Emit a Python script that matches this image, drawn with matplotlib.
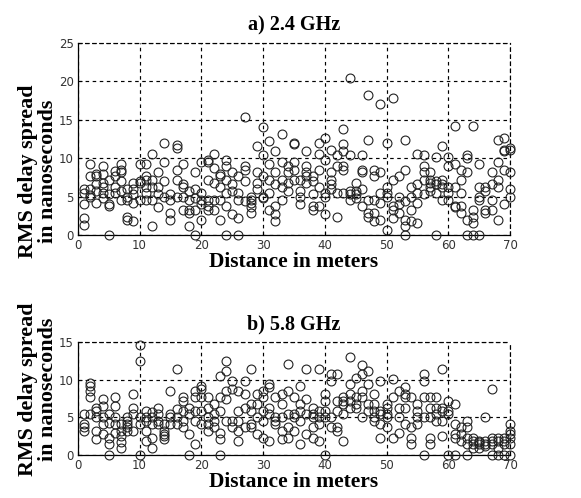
import matplotlib
matplotlib.use("Agg")
import matplotlib.pyplot as plt
import numpy as np

# RMS delay spread (ns) per distance (m)
dist = list(range(1, 71))

rms_24 = [
    [2.2, 1.3, 4.0, 5.5, 6.0],
    [9.3, 7.7, 5.0, 6.0, 5.2],
    [7.7, 6.6, 4.2, 5.7, 8.0],
    [9.0, 8.0, 6.8, 5.5, 4.8, 6.3],
    [0.0, 4.0, 3.8, 5.3, 7.2],
    [8.3, 6.3, 5.5, 7.7],
    [9.2, 8.5, 8.2, 7.0, 4.6, 5.7],
    [2.4, 2.0, 5.0, 4.6, 6.0],
    [1.8, 6.8, 6.0, 4.2, 5.3],
    [9.2, 7.0, 6.8, 4.6],
    [9.2, 7.7, 7.2, 6.3, 4.6, 5.5],
    [10.6, 1.2, 7.2, 6.3, 4.6],
    [8.2, 6.3, 5.3, 3.6],
    [12.0, 9.5, 7.0, 5.0],
    [2.9, 2.0, 5.3, 4.6],
    [11.7, 11.3, 8.5, 7.2, 5.0],
    [9.2, 6.6, 6.3, 3.3, 5.0],
    [1.2, 4.6, 3.3, 2.9, 5.7],
    [0.0, 8.2, 6.0, 3.3, 4.8],
    [9.5, 2.0, 5.5, 4.6, 4.0],
    [9.5, 9.8, 7.2, 3.8, 3.3, 4.6],
    [10.6, 8.7, 6.8, 4.6, 3.3],
    [7.9, 7.7, 2.0, 6.3, 4.6],
    [0.0, 9.8, 9.0, 7.2, 3.8, 5.5],
    [8.2, 6.6, 5.7, 2.7],
    [0.0, 2.2, 7.7, 5.5, 4.6],
    [15.3, 9.0, 8.5, 7.0, 4.4],
    [4.6, 4.2, 3.6, 2.9, 5.0],
    [11.6, 8.2, 6.8, 6.0],
    [14.0, 10.4, 5.0, 4.8, 7.7],
    [12.2, 9.2, 7.2, 3.3, 5.5],
    [10.9, 2.7, 1.8, 3.8, 6.6, 8.2],
    [13.1, 9.5, 7.2, 4.6, 6.2],
    [9.0, 8.2, 6.8, 5.7],
    [12.0, 11.8, 9.5, 8.5, 7.2],
    [7.2, 5.7, 4.0, 5.0],
    [10.9, 9.0, 8.2, 6.8, 7.7],
    [7.7, 5.3, 3.8, 3.3, 7.0],
    [12.0, 10.6, 8.5, 3.8, 6.3],
    [12.6, 9.8, 5.0, 2.7, 5.5],
    [11.1, 7.2, 6.6, 6.0, 8.2],
    [10.4, 2.4, 9.0, 5.5],
    [13.8, 11.8, 10.9, 9.0, 8.5, 5.5],
    [20.4, 10.4, 5.3, 4.6, 5.7],
    [6.8, 5.7, 4.8, 5.3],
    [10.4, 8.5, 8.2, 3.8, 6.0],
    [18.2, 12.4, 2.9, 2.4, 4.6],
    [7.7, 8.5, 4.6, 1.8, 2.9],
    [17.1, 8.2, 4.2, 2.0, 5.5],
    [12.0, 0.7, 5.5, 5.0, 6.3],
    [17.8, 7.2, 3.8, 3.3, 2.2],
    [7.7, 5.0, 4.0, 2.9],
    [12.4, 0.0, 1.2, 2.0, 4.4, 8.5],
    [6.3, 5.0, 3.3, 1.8],
    [10.6, 6.6, 4.2, 1.6, 5.5],
    [10.4, 9.0, 8.2, 7.2, 5.3],
    [8.2, 7.2, 6.8, 6.2, 5.7],
    [10.2, 0.0, 7.0, 6.6, 5.5],
    [11.6, 7.2, 6.3, 4.6, 6.6],
    [10.2, 9.0, 6.3, 5.5, 4.6],
    [14.2, 9.2, 3.8, 3.6, 6.2],
    [8.5, 7.2, 3.8, 2.9, 5.5],
    [10.4, 10.0, 8.2, 2.0, 0.0],
    [14.2, 3.3, 2.4, 1.6, 0.0],
    [9.2, 5.0, 4.6, 0.0, 6.2],
    [6.3, 5.7, 3.3, 2.9],
    [8.2, 6.6, 3.3, 4.6],
    [12.4, 9.5, 7.2, 2.0, 6.3],
    [12.6, 11.1, 8.5, 4.0, 10.9],
    [11.1, 8.2, 6.0, 5.0, 11.3],
]

rms_58 = [
    [3.2, 3.7, 4.1, 5.5],
    [9.6, 9.2, 8.5, 7.7, 5.4],
    [2.1, 3.2, 6.3, 5.0, 5.9],
    [7.4, 6.5, 5.0, 2.8, 4.1],
    [0.0, 1.5, 5.4, 4.3, 2.3],
    [7.7, 6.5, 3.0, 5.0, 4.1],
    [1.0, 1.7, 3.2, 4.1, 2.6],
    [3.2, 4.1, 4.6, 5.0, 3.7],
    [8.1, 6.3, 5.4, 3.2],
    [14.6, 12.5, 0.0, 5.0, 4.1],
    [1.9, 3.2, 4.6, 5.9, 5.0],
    [1.0, 2.3, 5.0, 5.7, 4.1],
    [6.3, 5.4, 4.1, 4.6],
    [3.2, 2.8, 2.1, 2.6, 4.1],
    [8.5, 4.1, 5.0, 5.4],
    [11.4, 6.1, 5.0, 4.1],
    [7.7, 7.2, 3.7, 4.6, 5.9],
    [0.0, 2.8, 5.4, 6.3],
    [1.5, 8.5, 7.7, 5.9, 4.6],
    [9.2, 8.8, 7.7, 4.1, 5.9],
    [7.7, 6.3, 4.1, 3.2, 5.0],
    [6.8, 5.4, 4.6, 3.7],
    [10.5, 7.7, 2.1, 0.0, 3.0, 5.9],
    [12.5, 11.2, 8.5, 7.4, 4.6],
    [9.9, 8.8, 4.6, 3.7],
    [8.5, 4.6, 1.9, 3.2, 5.9],
    [9.9, 8.1, 6.3, 3.7],
    [11.4, 6.8, 5.9, 3.7, 4.1],
    [8.1, 6.8, 5.0, 2.8],
    [8.5, 7.7, 4.6, 2.3, 5.9],
    [9.4, 9.0, 5.4, 1.9, 6.3],
    [7.7, 5.0, 4.6, 4.1],
    [8.1, 6.8, 3.2, 2.1, 5.0],
    [12.1, 8.5, 3.7, 2.3, 5.4],
    [7.7, 5.4, 5.0, 3.2],
    [9.2, 6.8, 1.5, 5.9, 4.6],
    [11.4, 7.4, 5.4, 2.8],
    [6.3, 5.0, 3.7, 2.3, 5.4],
    [11.4, 5.9, 5.0, 1.9, 4.1],
    [0.0, 8.1, 7.2, 5.9, 5.0],
    [10.8, 9.9, 5.0, 3.7],
    [10.8, 7.2, 3.7, 3.2, 5.9],
    [7.7, 7.2, 5.4, 1.9, 6.8],
    [13.0, 9.4, 8.1, 7.2, 6.3],
    [10.3, 7.7, 6.3, 6.8],
    [11.9, 10.8, 7.7, 5.0, 8.5],
    [11.2, 9.4, 6.8, 5.9],
    [8.1, 6.8, 4.6, 5.0, 5.9],
    [9.9, 4.1, 2.3, 5.4, 5.9],
    [5.4, 6.8, 3.7, 6.3, 5.0],
    [10.1, 2.3, 7.7],
    [8.5, 3.0, 5.0, 6.3],
    [9.0, 8.1, 6.3, 4.1, 7.7],
    [2.3, 1.5, 3.7, 7.7],
    [6.8, 5.9, 4.1, 5.0],
    [10.8, 9.9, 7.7, 0.0, 5.0],
    [7.7, 6.3, 2.3, 1.5, 5.0],
    [7.7, 5.4, 4.6, 6.3],
    [11.4, 6.3, 5.9, 4.6, 2.6],
    [7.2, 5.9, 0.0, 5.4],
    [6.8, 4.1, 2.3, 0.0, 2.8],
    [2.8, 1.9, 3.7],
    [4.6, 3.7, 2.3, 0.0, 1.5],
    [1.5, 1.0, 1.9, 2.3],
    [1.5, 1.9, 1.0, 1.7],
    [5.0, 1.5, 1.9, 1.2],
    [8.8, 1.9, 0.0, 1.5, 2.3],
    [1.9, 1.0, 0.0, 2.3],
    [2.3, 1.5, 0.0, 1.9],
    [4.1, 2.8, 2.3, 1.5, 0.0, 3.2],
]

titles = ["a) 2.4 GHz", "b) 5.8 GHz"]
ylims = [25, 15]
yticks = [[0, 5, 10, 15, 20, 25], [0, 5, 10, 15]]
ylabel_y = [0.33, 0.58]

title_font = {"family": "Liberation Serif", "weight": "bold", "size": 14.5}
xlab_font = {"family": "Liberation Serif", "weight": "bold", "size": 15.5}
ylab_font = {"family": "Liberation Serif", "weight": "bold", "size": 15.8}

fig = plt.figure(figsize=(5.81, 4.98), dpi=100)
ax_a = fig.add_axes([0.134, 0.528, 0.744, 0.386])
ax_b = fig.add_axes([0.134, 0.086, 0.744, 0.227])

dash = (0, (3, 3))
for ax, data, title, ymax, yt, ly in zip([ax_a, ax_b], [rms_24, rms_58], titles,
                                          ylims, yticks, ylabel_y):
    xs = np.concatenate([[d] * len(v) for d, v in zip(dist, data)])
    ys = np.concatenate(data)
    ax.plot(xs, ys, "o", mfc="none", mec="#222222", mew=0.8, ms=6.4,
            clip_on=False, zorder=3)
    ax.set_xlim(0, 70)
    ax.set_ylim(0, ymax)
    ax.set_xticks(range(0, 71, 10))
    ax.set_yticks(yt)
    ax.grid(True, color="black", linestyle=dash, linewidth=0.85)
    ax.set_axisbelow(True)
    for side in ["top", "right"]:
        ax.spines[side].set_linestyle(dash)
        ax.spines[side].set_linewidth(0.85)
    for side in ["left", "bottom"]:
        ax.spines[side].set_linewidth(0.9)
    ax.tick_params(direction="in", length=3, labelsize=8.5, colors="black",
                   labelcolor="#333333", pad=3)
    ax.set_title(title, fontdict=title_font, pad=9)
    ax.set_xlabel("Distance in meters", fontdict=xlab_font, labelpad=0)
    ax.set_ylabel("RMS delay spread\nin nanoseconds", fontdict=ylab_font,
                  linespacing=1.05)
    ax.yaxis.set_label_coords(-0.045, ly)

fig.savefig("out.png", dpi=100)
